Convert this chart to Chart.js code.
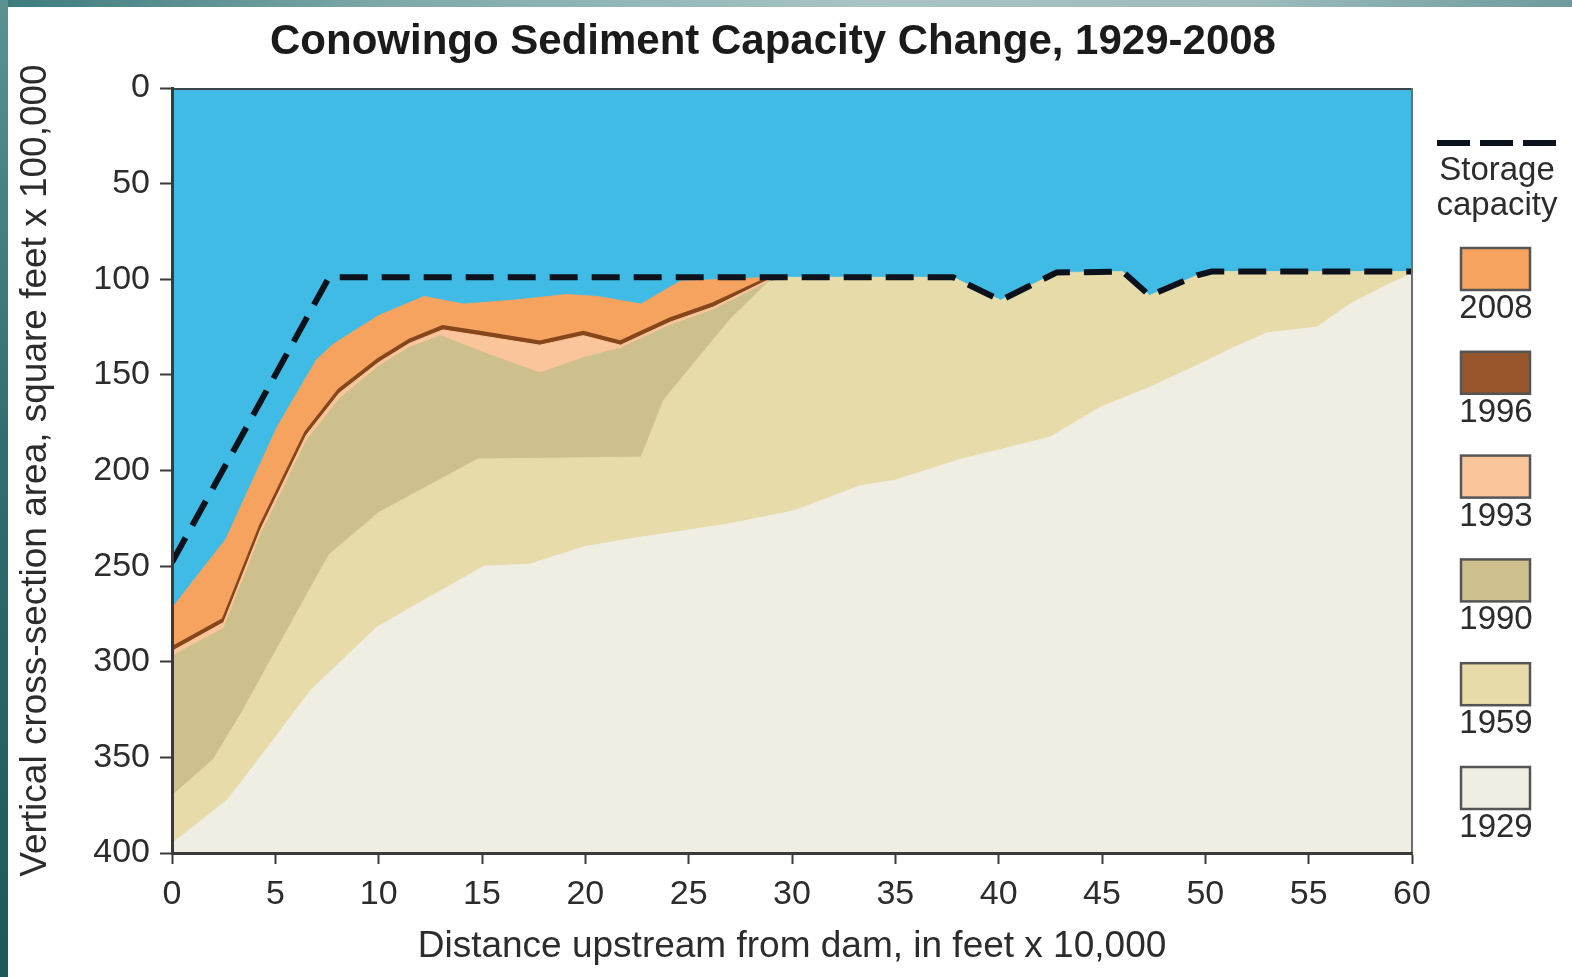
<!DOCTYPE html>
<html>
<head>
<meta charset="utf-8">
<title>Conowingo Sediment Capacity Change, 1929-2008</title>
<script src="https://cdn.jsdelivr.net/npm/chart.js@4.4.1/dist/chart.umd.min.js"></script>
<style>
  html, body { margin: 0; padding: 0; }
  body {
    width: 1572px; height: 977px; overflow: hidden; position: relative;
    background: #ffffff;
  }
  #edgeTop {
    position: absolute; left: 0; top: 0; width: 1572px; height: 7px;
    background: linear-gradient(to right, #3c7b7c 0%, #7fa9a9 25%, #a8c4c4 55%, #9dbbbb 80%, #6e9b9d 100%);
  }
  #edgeLeft {
    position: absolute; left: 0; top: 0; width: 8px; height: 977px;
    background: linear-gradient(to bottom, #5a9292 0%, #2f6e70 45%, #1b585a 100%);
  }
  canvas { position: absolute; left: 0; top: 0; }
</style>
</head>
<body>
<div id="edgeTop"></div>
<div id="edgeLeft"></div>
<canvas id="chart" width="1572" height="977"></canvas>
<script>
// ---- axis ticks ----
const xTicks = [0, 5, 10, 15, 20, 25, 30, 35, 40, 45, 50, 55, 60];
const yTicks = [0, 50, 100, 150, 200, 250, 300, 350, 400];

// ---- storage capacity (dashed line): [distance, area] ----
const storageCapacity = [
  [0, 248], [7.6, 99], [37.8, 99], [40.1, 111], [42.8, 96.5], [46, 96],
  [47.3, 108.5], [49.6, 98], [50.3, 96], [60, 96]
];

// ---- sediment surface for each survey year: [distance, area] ----
const surface2008 = [
  [0, 272], [2.6, 236], [5.1, 177], [7.0, 142], [7.8, 134], [10, 119],
  [12.2, 109], [14.1, 113], [16.5, 111], [19.1, 108], [20.6, 109],
  [22.7, 113], [23.8, 106], [24.6, 101], [29, 99]
];
const surface1996 = [
  [0, 293], [2.5, 278], [4.3, 229], [6.5, 180], [8.1, 158], [10, 142],
  [11.5, 132], [13.1, 125], [14.9, 128], [17.8, 133], [19.9, 128],
  [21.7, 133], [24.1, 121], [26.2, 113], [29, 99]
];
const surface1993 = [
  [0, 294.5], [2.5, 279.5], [4.3, 230.5], [6.5, 181.5], [8.1, 159.5], [10, 143.5],
  [11.5, 133.5], [13.1, 126.5], [14.9, 129.5], [17.8, 134.5], [19.9, 129.5],
  [21.7, 134.5], [24.1, 122.5], [26.2, 114.5], [29, 99.5]
];
const surface1990 = [
  [0, 297], [2.5, 282.5], [4.3, 233.5], [6.5, 184.5], [8.1, 162.5], [10, 145.5],
  [11.5, 135.5], [13, 129.5], [15, 138], [17.8, 149], [19.9, 141], [21.7, 136],
  [24.1, 124], [26.2, 116], [29, 100.5]
];
const surface1959 = [
  [0, 370], [2, 351], [3.4, 326], [5.6, 283], [7.6, 244], [10, 222],
  [14.8, 194], [22.7, 193], [23.8, 163], [25.4, 142], [27, 121], [28.8, 102],
  [29.6, 99], [37.8, 99], [40.1, 111], [42.8, 96.5], [46, 96], [47.3, 108.5],
  [49.6, 98], [50.3, 96], [60, 96]
];
const surface1929 = [
  [0, 395], [2.7, 372], [5.1, 338], [6.7, 315], [9.9, 282], [12, 269],
  [15.1, 250], [17.3, 249], [19.9, 240], [22, 236], [26.9, 228], [30.1, 221],
  [33.3, 208], [35, 205], [38.2, 194], [40.1, 189], [42.5, 182.5], [44.9, 167],
  [47.4, 156], [49.8, 144], [51.4, 135.5], [53, 128], [55.4, 125], [57, 113],
  [58.6, 104], [60, 97]
];

// legend order, top to bottom
const years = ['2008', '1996', '1993', '1990', '1959', '1929'];

// ---- styling ----
const FONT = '"Liberation Sans", Arial, Helvetica, sans-serif';
const WATER = '#40bbe5';
const STORAGE_COLOR = '#0c121c';
const AXIS_COLOR = '#3a3a3a';
const TEXT_COLOR = '#2c2c2c';
const layerColors = {
  '2008': '#f5a35f',
  '1996': '#98542a',
  '1993': '#fbc59c',
  '1990': '#cdc08c',
  '1959': '#e6dba9',
  '1929': '#f0ede2'
};

const toPoints = pairs => pairs.map(([x, y]) => ({ x, y }));

function layer(year, pairs) {
  const c = layerColors[year];
  const isLine = year === '1996';
  return {
    label: year,
    data: toPoints(pairs),
    backgroundColor: c,
    borderColor: isLine ? '#86461b' : c,
    borderWidth: isLine ? 4 : 1,
    fill: 'start',
    pointRadius: 0,
    tension: 0
  };
}

// Dataset 0 is painted last (on top); older, lower surfaces cover the newer fills below them.
const datasets = [
  {
    label: 'Storage capacity',
    data: toPoints(storageCapacity),
    borderColor: STORAGE_COLOR,
    borderWidth: 6,
    borderDash: [28, 14],
    borderCapStyle: 'butt',
    borderJoinStyle: 'miter',
    fill: false,
    pointRadius: 0,
    tension: 0
  },
  layer('1929', surface1929),
  layer('1959', surface1959),
  layer('1990', surface1990),
  layer('1993', surface1993),
  layer('1996', surface1996),
  layer('2008', surface2008)
];

// water background inside the plot and the thin top/right frame
const plotFrame = {
  id: 'plotFrame',
  beforeDatasetsDraw(chart) {
    const { ctx, chartArea: a } = chart;
    ctx.save();
    ctx.fillStyle = WATER;
    ctx.fillRect(a.left, a.top, a.right - a.left, a.bottom - a.top);
    ctx.restore();
  },
  afterDatasetsDraw(chart) {
    const { ctx, chartArea: a } = chart;
    ctx.save();
    ctx.lineWidth = 2;
    ctx.strokeStyle = '#3a4649';
    ctx.beginPath();
    ctx.moveTo(a.left, a.top + 1);
    ctx.lineTo(a.right, a.top + 1);
    ctx.stroke();
    ctx.strokeStyle = '#6f6f6f';
    ctx.beginPath();
    ctx.moveTo(a.right, a.top);
    ctx.lineTo(a.right, a.bottom);
    ctx.stroke();
    ctx.restore();
  }
};

const chartTitle = {
  id: 'chartTitle',
  afterDraw(chart) {
    const { ctx } = chart;
    ctx.save();
    ctx.fillStyle = '#1b1b1b';
    ctx.font = 'bold 42px ' + FONT;
    ctx.textAlign = 'center';
    ctx.textBaseline = 'middle';
    ctx.fillText('Conowingo Sediment Capacity Change, 1929-2008', 773, 42);
    ctx.restore();
  }
};

// key on the right: dashed storage line, then one swatch per survey year
const sideLegend = {
  id: 'sideLegend',
  afterDraw(chart) {
    const { ctx } = chart;
    ctx.save();
    ctx.strokeStyle = STORAGE_COLOR;
    ctx.lineWidth = 6;
    ctx.setLineDash([33, 10]);
    ctx.beginPath();
    ctx.moveTo(1437, 143);
    ctx.lineTo(1556, 143);
    ctx.stroke();
    ctx.setLineDash([]);

    ctx.fillStyle = TEXT_COLOR;
    ctx.font = '33px ' + FONT;
    ctx.textAlign = 'center';
    ctx.textBaseline = 'middle';
    ctx.fillText('Storage', 1497, 171);
    ctx.fillText('capacity', 1497, 206);

    years.forEach((yr, i) => {
      const top = 248 + i * 103.8;
      ctx.fillStyle = layerColors[yr];
      ctx.fillRect(1461, top, 69, 42);
      ctx.strokeStyle = '#555555';
      ctx.lineWidth = 2.5;
      ctx.strokeRect(1461, top, 69, 42);
      ctx.fillStyle = TEXT_COLOR;
      ctx.fillText(yr, 1496, top + 61);
    });
    ctx.restore();
  }
};

new Chart(document.getElementById('chart'), {
  type: 'line',
  data: { datasets },
  options: {
    responsive: false,
    animation: false,
    devicePixelRatio: 1,
    layout: { padding: { top: 88, right: 160, left: 0, bottom: 0 } },
    plugins: {
      legend: { display: false },
      tooltip: { enabled: false },
      title: { display: false }
    },
    scales: {
      x: {
        type: 'linear',
        min: 0,
        max: 60,
        afterBuildTicks: s => { s.ticks = xTicks.map(v => ({ value: v })); },
        afterFit: s => { s.height = 124; },
        ticks: {
          font: { size: 34, family: FONT },
          color: TEXT_COLOR,
          padding: 10,
          maxRotation: 0,
          autoSkip: false
        },
        grid: {
          drawOnChartArea: false,
          drawTicks: true,
          tickLength: 11,
          tickWidth: 2,
          tickColor: AXIS_COLOR
        },
        border: { display: true, color: AXIS_COLOR, width: 3, z: 1 },
        title: {
          display: true,
          text: 'Distance upstream from dam, in feet x 10,000',
          font: { size: 37, family: FONT },
          color: TEXT_COLOR,
          padding: { top: 0, bottom: 8 }
        }
      },
      y: {
        type: 'linear',
        reverse: true,
        min: 0,
        max: 400,
        afterBuildTicks: s => { s.ticks = yTicks.map(v => ({ value: v })); },
        afterFit: s => { s.width = 172; },
        ticks: {
          font: { size: 34, family: FONT },
          color: TEXT_COLOR,
          padding: 10
        },
        grid: {
          drawOnChartArea: false,
          drawTicks: true,
          tickLength: 12,
          tickWidth: 2,
          tickColor: AXIS_COLOR
        },
        border: { display: true, color: AXIS_COLOR, width: 3, z: 1 },
        title: {
          display: true,
          text: 'Vertical cross-section area, square feet x 100,000',
          font: { size: 37, family: FONT },
          color: TEXT_COLOR,
          padding: { top: 14, bottom: 0 }
        }
      }
    }
  },
  plugins: [plotFrame, chartTitle, sideLegend]
});
</script>
</body>
</html>
